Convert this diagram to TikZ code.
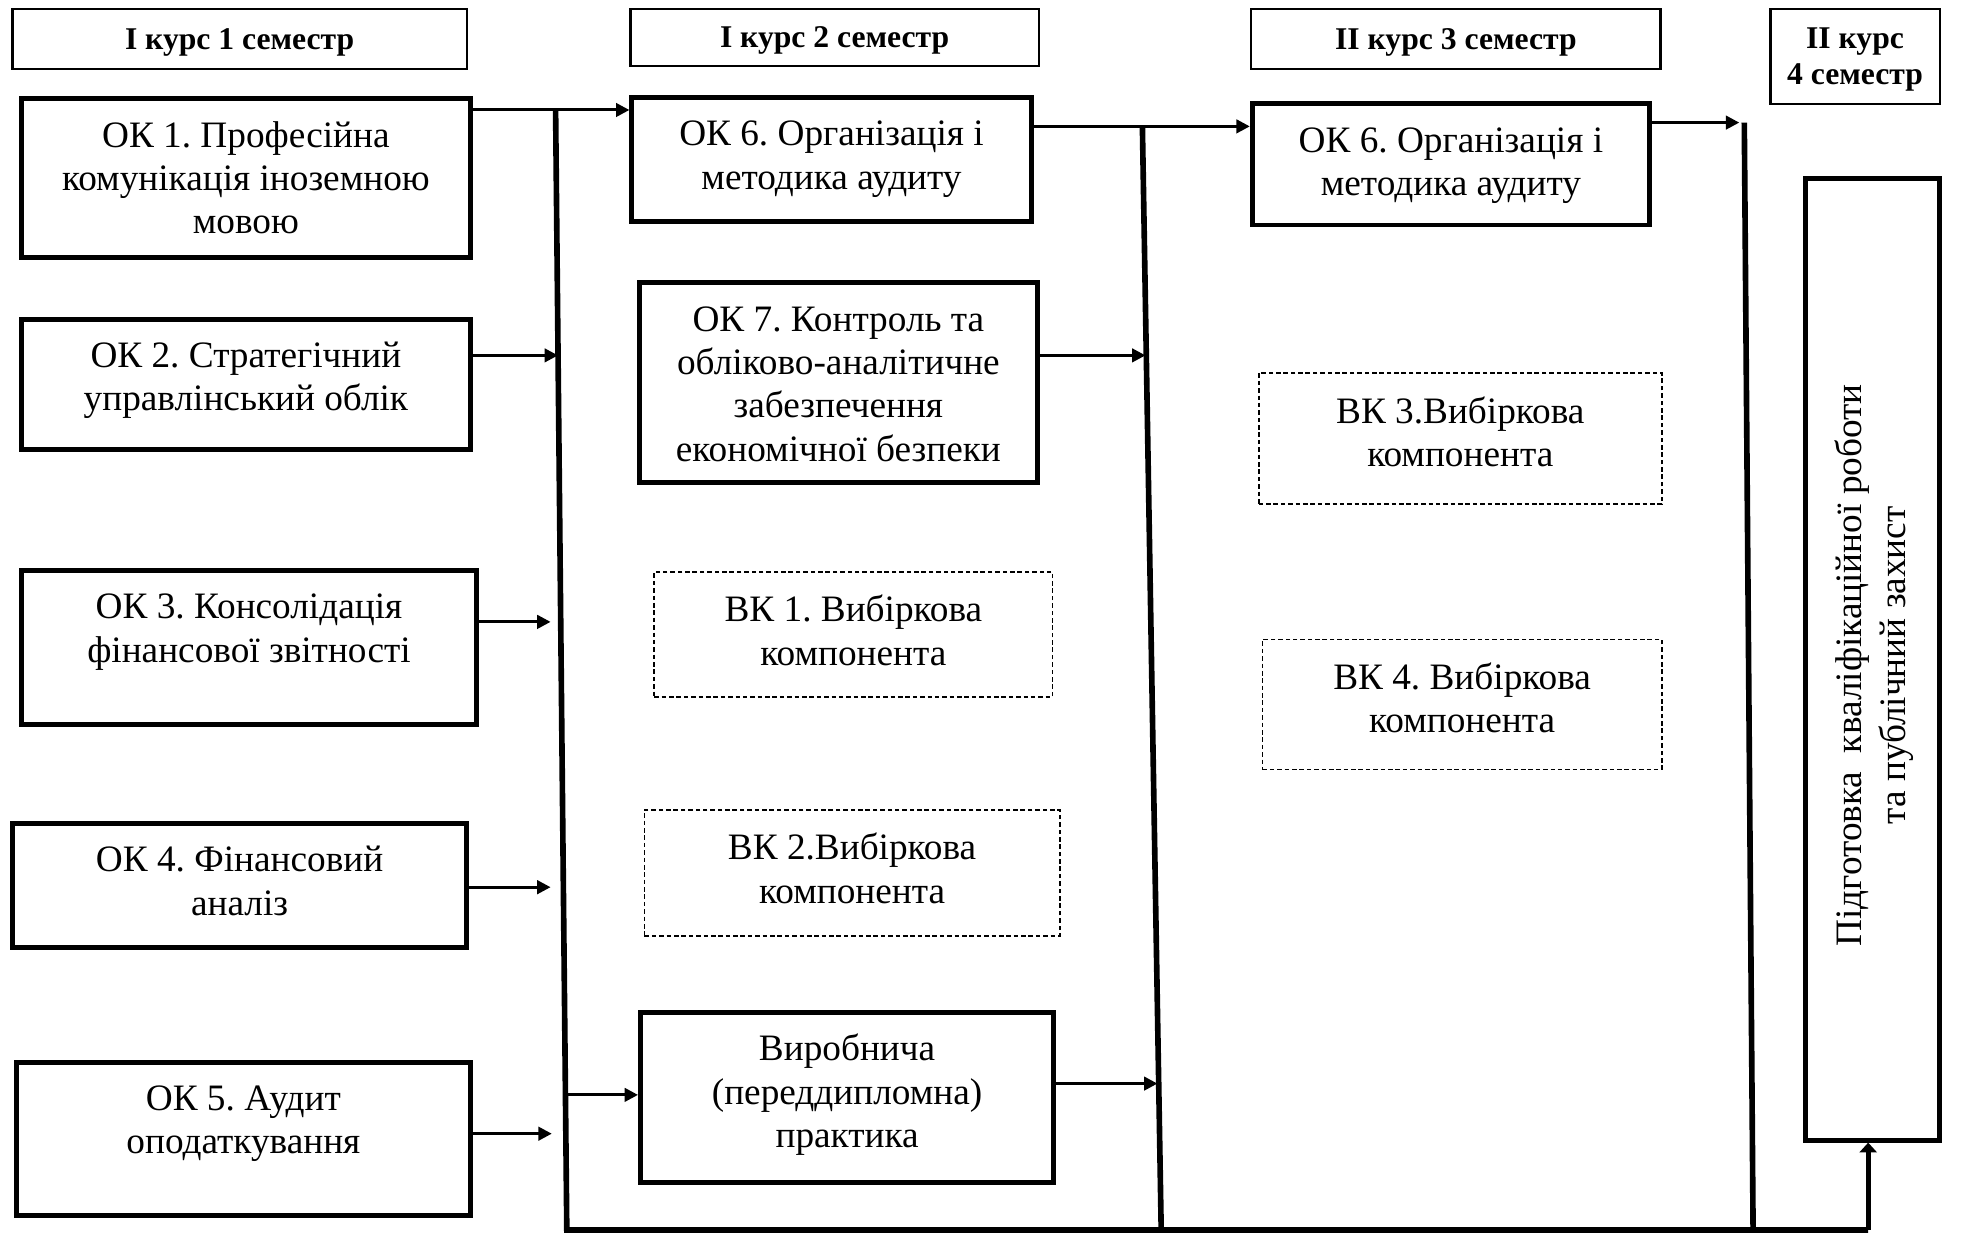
\documentclass[tikz,border=0pt]{standalone}
\usepackage{fontspec}
\setmainfont{Liberation Serif}
\usepackage{tikz}
\usetikzlibrary{positioning,calc,arrows.meta}
\frenchspacing

\newcommand{\hdrfont}{\fontsize{9}{10.4}\selectfont\bfseries}
\newcommand{\txtfont}{\fontsize{10.6}{12.3}\selectfont}

\tikzset{
    semester/.style={draw, line width=0.6pt, inner sep=0pt, align=center, font=\hdrfont, text depth=0pt},
    okbox/.style={draw, line width=1.4pt, inner sep=0pt},
    vkbox/.style={draw, line width=0.5pt, dash pattern=on 1.3pt off 0.8pt, inner sep=0pt},
    boxtext/.style={align=center, inner sep=0pt, font=\txtfont},
    link/.style={line width=0.85pt, -{Triangle[length=3.8pt,width=3.8pt]}},
    bus/.style={line width=1.6pt}
}

\begin{document}
\begin{tikzpicture}[x=0.01cm, y=-0.01cm]
    \useasboundingbox (0,0) rectangle (1962,1234);

    % Semester headers
    \node[semester, minimum width=4.54cm, minimum height=0.60cm] (s1) at (239.6,38.8) {І курс 1 семестр};
    \node[semester, minimum width=4.08cm, minimum height=0.575cm] (s2) at (834.6,37.5) {І курс 2 семестр};
    \node[semester, minimum width=4.09cm, minimum height=0.60cm] (s3) at (1455.9,38.8) {ІІ курс 3 семестр};
    \node[semester, minimum width=1.69cm, minimum height=0.95cm] (s4) at (1855,56.3) {ІІ курс\\4 семестр};

    % Semester 1
    \node[okbox, minimum width=4.49cm, minimum height=1.59cm] (ok1) at (245.9,178.3) {};
    \node[boxtext, below=0.20cm of ok1.north] (ok1t) {\strut ОК 1. Професійна\\комунікація іноземною\\мовою};
    \node[okbox, minimum width=4.49cm, minimum height=1.30cm] (ok2) at (245.9,384.1) {};
    \node[boxtext, below=0.20cm of ok2.north] (ok2t) {\strut ОК 2. Стратегічний\\управлінський облік};
    \node[okbox, minimum width=4.55cm, minimum height=1.54cm] (ok3) at (249,647.5) {};
    \node[boxtext, below=0.20cm of ok3.north] (ok3t) {\strut ОК 3. Консолідація\\фінансової звітності};
    \node[okbox, minimum width=4.54cm, minimum height=1.24cm] (ok4) at (239.6,885.3) {};
    \node[boxtext, below=0.20cm of ok4.north] (ok4t) {\strut ОК 4. Фінансовий\\аналіз};
    \node[okbox, minimum width=4.54cm, minimum height=1.53cm] (ok5) at (243.4,1138.7) {};
    \node[boxtext, below=0.20cm of ok5.north] (ok5t) {\strut ОК 5. Аудит\\оподаткування};

    % Semester 2
    \node[okbox, minimum width=3.99cm, minimum height=1.24cm] (ok6) at (831.5,159.5) {};
    \node[boxtext, below=0.20cm of ok6.north] (ok6t) {\strut ОК 6. Організація і\\методика аудиту};
    \node[okbox, minimum width=3.98cm, minimum height=2.00cm] (ok7) at (838.4,382.9) {};
    \node[boxtext, below=0.20cm of ok7.north] (ok7t) {\strut ОК 7. Контроль та\\обліково-аналітичне\\забезпечення\\економічної безпеки};
    \node[vkbox, minimum width=3.98cm, minimum height=1.25cm] (vk1) at (853.4,634.4) {};
    \node[boxtext, below=0.20cm of vk1.north] (vk1t) {\strut ВК 1. Вибіркова\\компонента};
    \node[vkbox, minimum width=4.15cm, minimum height=1.26cm] (vk2) at (852.1,872.8) {};
    \node[boxtext, below=0.20cm of vk2.north] (vk2t) {\strut ВК 2.Вибіркова\\компонента};
    \node[okbox, minimum width=4.13cm, minimum height=1.70cm] (prac) at (847.1,1097.4) {};
    \node[boxtext, below=0.20cm of prac.north] (pract) {\strut Виробнича\\(переддипломна)\\практика};

    % Semester 3
    \node[okbox, minimum width=3.97cm, minimum height=1.21cm] (ok6b) at (1450.9,164.5) {};
    \node[boxtext, below=0.20cm of ok6b.north] (ok6bt) {\strut ОК 6. Організація і\\методика аудиту};
    \node[vkbox, minimum width=4.03cm, minimum height=1.31cm] (vk3) at (1460.3,438.6) {};
    \node[boxtext, below=0.20cm of vk3.north] (vk3t) {\strut ВК 3.Вибіркова\\компонента};
    \node[vkbox, minimum width=3.99cm, minimum height=1.30cm] (vk4) at (1462.1,704.5) {};
    \node[boxtext, below=0.20cm of vk4.north] (vk4t) {\strut ВК 4. Вибіркова\\компонента};

    % Semester 4
    \node[okbox, minimum width=1.34cm, minimum height=9.61cm] (final) at (1872.6,659.4) {};
    \node[boxtext, rotate=90] (finalt) at ($(final.center)+(1.5,6)$) {Підготовка~ кваліфікаційної роботи\\та публічний захист};

    % Buses
    \coordinate (v1a) at (555.6,110);
    \coordinate (v1b) at (566.8,1230);
    \coordinate (v2a) at (1142.4,126.4);
    \coordinate (v2b) at (1161.2,1230);
    \coordinate (v3a) at (1744.3,122.6);
    \coordinate (v3b) at (1753.1,1230);
    \coordinate (fin) at (1868.2,1230);
    \draw[bus] (v1a) -- (v1b) -- (fin);
    \draw[bus] (v2a) -- (v2b);
    \draw[bus] (v3a) -- (v3b);

    % Arrow ends
    \coordinate (e2) at (558,355.4);
    \coordinate (e3) at (550.6,621.9);
    \coordinate (e4) at (550.6,887.2);
    \coordinate (e5) at (551.8,1133.7);
    \coordinate (b6) at (565.4,1094.9);
    \coordinate (e8) at (1145.5,355.4);
    \coordinate (e9) at (1157.5,1083.6);
    \coordinate (e10) at (1739.3,122.6);

    % Links
    \draw[link] (ok1.east |- v1a) -- (ok6.west |- v1a);
    \draw[link] (ok2.east |- e2) -- (e2);
    \draw[link] (ok3.east |- e3) -- (e3);
    \draw[link] (ok4.east |- e4) -- (e4);
    \draw[link] (ok5.east |- e5) -- (e5);
    \draw[link] (b6) -- (prac.west |- b6);
    \draw[link] (ok6.east |- v2a) -- (ok6b.west |- v2a);
    \draw[link] (ok7.east |- e8) -- (e8);
    \draw[link] (prac.east |- e9) -- (e9);
    \draw[link] (ok6b.east |- e10) -- (e10);
    \draw[line width=1.5pt, -{Triangle[length=2.8pt,width=4.9pt]}] (fin) -- (fin |- final.south);
\end{tikzpicture}
\end{document}
